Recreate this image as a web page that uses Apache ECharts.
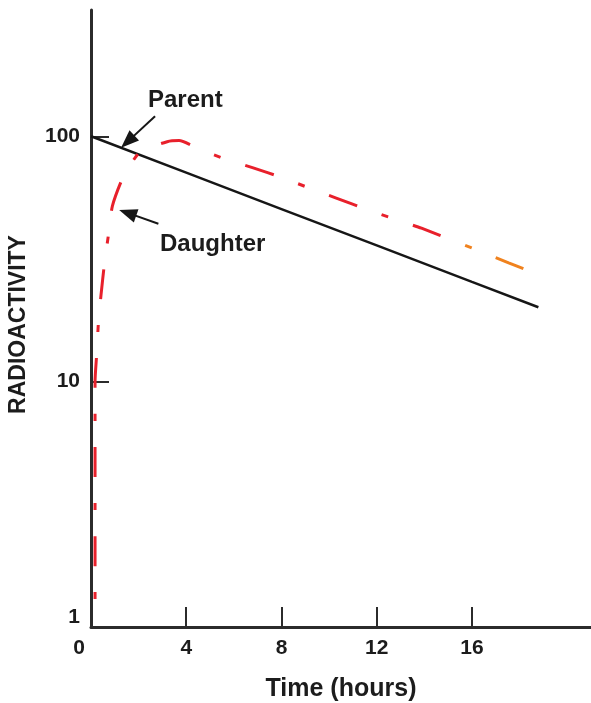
<!DOCTYPE html>
<html><head><meta charset="utf-8">
<script src="https://cdn.jsdelivr.net/npm/echarts@6/dist/echarts.min.js"></script>
<style>html,body{margin:0;padding:0;background:#fff}#c{width:591px;height:703px}</style>
</head><body><div id="c"></div>
<script>
// Time axis (hours) and activity values
const parentTime = [0, 4, 8, 12, 16, 18.79];
const parentActivity = [100, 71.1, 50.5, 35.9, 25.5, 20.1];

const daughterTime = [0.17, 0.17, 0.24, 0.31, 0.42, 0.56, 0.73, 0.9, 1.36, 2.07, 3.2, 3.7, 4.46, 5.6, 6.78, 8.05, 9.17, 10.3, 11.56, 12.76, 13.88, 16.41, 17.54, 19.08];
const daughterActivity = [1.3, 10, 13, 17.3, 22.5, 30, 39.5, 52, 68.5, 86.5, 95, 96, 89.5, 81, 74.5, 67.7, 61.5, 56, 50.4, 45.9, 42.2, 33.8, 30.5, 26.6];

const xTickLabels = [0, 4, 8, 12, 16];
const xTicks = [4, 8, 12, 16];
const yTickLabels = [1, 10, 100];
const yTicks = [10, 100];

// Arrow annotations in data units: [tailTime, tailValue, headTime, headValue]
const parentArrow = [2.69, 120.7, 1.54, 95.1];
const daughterArrow = [2.83, 44.0, 1.54, 48.7];
const orangeFrom = 15.08;

const FONT = "'Liberation Sans', Arial, Helvetica, sans-serif";
const TXT = '#1c1c1c';

const chart = echarts.init(document.getElementById('c'), null, {renderer: 'canvas'});
const zip = (a, b) => a.map((v, i) => [v, b[i]]);

chart.setOption({
  animation: false,
  backgroundColor: '#fff',
  grid: {left: 91, right: 0, top: 10, bottom: 76, containLabel: false, outerBoundsMode: 'none'},
  xAxis: {
    type: 'value', min: 0, max: 21,
    name: 'Time (hours)', nameLocation: 'middle', nameGap: 50,
    nameTextStyle: {fontSize: 25, fontWeight: 'bold', fontFamily: FONT, color: TXT},
    axisLine: {show: true, lineStyle: {color: '#2b2b2b', width: 3}},
    axisTick: {show: true, inside: true, length: 20, customValues: xTicks, lineStyle: {color: '#2b2b2b', width: 2}},
    splitLine: {show: false},
    axisLabel: {
      customValues: xTickLabels, margin: 11,
      fontSize: 21, fontWeight: 'bold', fontFamily: FONT, color: TXT,
      formatter: v => v === 0 ? '{z|0}' : String(v),
      rich: {z: {fontSize: 21, fontWeight: 'bold', fontFamily: FONT, color: TXT, padding: [0, 24, 0, 0]}}
    }
  },
  yAxis: {
    type: 'log', logBase: 10, min: 1, max: 327,
    name: 'RADIOACTIVITY', nameLocation: 'middle', nameGap: 61, nameRotate: 90,
    nameTextStyle: {fontSize: 23, fontWeight: 'bold', fontFamily: FONT, color: TXT, padding: [0, 12, 0, 0]},
    axisLine: {show: true, lineStyle: {color: '#2b2b2b', width: 3}},
    axisTick: {show: true, inside: true, length: 18, customValues: yTicks, lineStyle: {color: '#2b2b2b', width: 2}},
    splitLine: {show: false},
    minorTick: {show: false},
    axisLabel: {
      customValues: yTickLabels, margin: 11,
      fontSize: 21, fontWeight: 'bold', fontFamily: FONT, color: TXT,
      formatter: v => v === 1 ? '{o|1}' : String(v),
      rich: {o: {fontSize: 21, fontWeight: 'bold', fontFamily: FONT, color: TXT, padding: [0, 0, 20, 0]}}
    }
  },
  visualMap: {
    show: false, type: 'piecewise', dimension: 0, seriesIndex: 1,
    pieces: [{gte: 0, lt: orangeFrom, color: '#e8202b'}, {gte: orangeFrom, lte: 21, color: '#f0821e'}]
  },
  series: [
    {
      name: 'Parent', type: 'line', data: zip(parentTime, parentActivity),
      symbol: 'none', clip: false,
      lineStyle: {color: '#161616', width: 2.5},
      markLine: {
        silent: true, symbol: ['none', 'triangle'], symbolSize: [14, 18],
        label: {show: false},
        lineStyle: {color: '#161616', width: 2, type: 'solid'},
        data: [
          [{coord: [parentArrow[0], parentArrow[1]]}, {coord: [parentArrow[2], parentArrow[3]]}],
          [{coord: [daughterArrow[0], daughterArrow[1]]}, {coord: [daughterArrow[2], daughterArrow[3]]}]
        ]
      }
    },
    {
      name: 'Daughter', type: 'line', data: zip(daughterTime, daughterActivity),
      symbol: 'none', clip: false, smooth: 0.2,
      lineStyle: {width: 3, type: [7, 26, 30, 26], cap: 'butt'}
    }
  ],
  graphic: [
    {type: 'text', left: 148, top: 88, style: {text: 'Parent', fontSize: 24, fontWeight: 'bold', fontFamily: FONT, fill: TXT}},
    {type: 'text', left: 160, top: 232, style: {text: 'Daughter', fontSize: 24, fontWeight: 'bold', fontFamily: FONT, fill: TXT}}
  ]
});
</script>
</body></html>
